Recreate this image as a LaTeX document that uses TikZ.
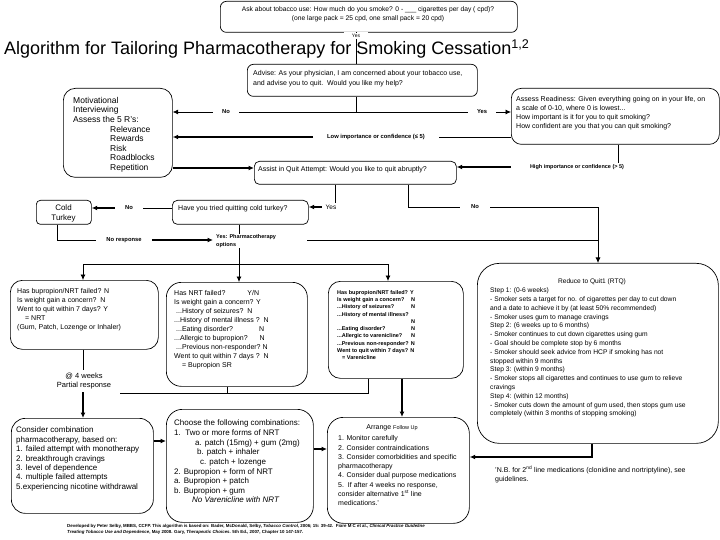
\documentclass[tikz,border=0pt]{standalone}
\usepackage{fontspec}
\setmainfont{Liberation Sans}
\usetikzlibrary{arrows.meta,calc}
\newcommand\fsz[2]{\fontsize{#1bp}{#2bp}\selectfont}
\tikzset{
  conn/.style={line width=0.7bp},
  thk/.style={line width=1.7bp},
  arr/.style={-{Latex[length=5.5bp,width=5bp]}},
  bx/.style n args={3}{draw, line width=0.7bp, rounded corners=#3bp, inner sep=0pt, anchor=north west, minimum width=#1bp, minimum height=#2bp},
  txt/.style={inner sep=0pt, anchor=north west, align=left},
  lbl/.style={fill=white, inner xsep=9bp, inner ysep=1.5bp, font=\bfseries\fsz{5.8}{7}},
}
\begin{document}
\begin{tikzpicture}[x=1bp,y=-1bp]
\fill[white] (0,0) rectangle (720,540);
\useasboundingbox (0,0) rectangle (720,540);

% ---------- boxes ----------
\node[bx={297}{31}{6}] (ask) at (220,1) {};
\node[bx={230}{32}{6}] (advise) at (247,64) {};
\node[bx={109}{89}{12}] (motiv) at (63,88) {};
\node[bx={208}{56}{10}] (assess) at (511,88) {};
\node[bx={202}{23}{5}] (assist) at (254,161) {};
\node[bx={136}{24}{5}] (tried) at (172,200) {};
\node[bx={55}{24}{4}] (cold) at (36,200) {};
\node[bx={148}{69}{12}] (nrt) at (10,280) {};
\node[bx={141}{104}{15}] (bup) at (166,282) {};
\node[bx={135}{97}{12}] (var) at (328,281) {};
\node[bx={241}{180}{22}] (rtq) at (477,263) {};
\node[bx={142}{95}{14}] (cons) at (11,418) {};
\node[bx={147}{113}{16}] (choose) at (166,409) {};
\node[bx={142}{106}{16}] (arrange) at (327,417) {};

% ---------- texts ----------
\node[inner sep=0pt, anchor=base west, font=\fsz{18}{20}] (title) at (4,55)
  {Algorithm for Tailoring Pharmacotherapy for Smoking Cessation\textsuperscript{1,2}};

\node[txt, anchor=north, align=center, font=\fsz{6.7}{9}] (asktxt) at (368,6.5)
  {Ask about tobacco use: How much do you smoke? 0 - \_\_\_ cigarettes per day ( cpd)?\\(one large pack = 25 cpd, one small pack = 20 cpd)};

\node[txt, font=\fsz{7}{10}] (advisetxt) at (253,70.5)
  {Advise: As your physician, I am concerned about your tobacco use,\\and advise you to quit.\ \ Would you like my help?};

\node[txt, font=\fsz{8.5}{9.6}] (motivtxt) at (73,97)
  {Motivational\\Interviewing\\Assess the 5 R's:\\
   \hspace*{37bp}Relevance\\\hspace*{37bp}Rewards\\\hspace*{37bp}Risk\\
   \hspace*{37bp}Roadblocks\\\hspace*{37bp}Repetition};

\node[txt, font=\fsz{7}{9}] (assesstxt) at (516,96.5)
  {Assess Readiness: Given everything going on in your life, on\\a scale of 0-10, where 0 is lowest...\\
   How important is it for you to quit smoking?\\How confident are you that you can quit smoking?};

\node[txt, font=\fsz{7}{9}] (assisttxt) at (258,166)
  {Assist in Quit Attempt: Would you like to quit abruptly?};

\node[txt, font=\fsz{7}{9}] (triedtxt) at (178,205.5)
  {Have you tried quitting cold turkey?};

\node[txt, anchor=center, align=center, font=\fsz{8}{10}] (coldtxt) at (63.5,213)
  {Cold\\Turkey};

\node[txt, font=\fsz{7}{9}] (nrttxt) at (17,288.5)
  {Has bupropion/NRT failed? N\\Is weight gain a concern?\ \ N\\Went to quit within 7 days? Y\\
   \hspace*{8bp}= NRT\\(Gum, Patch, Lozenge or Inhaler)};

\node[txt, font=\fsz{7}{9}] (buptxt) at (174,290.5)
  {Has NRT failed?\hspace{22bp}Y/N\\Is weight gain a concern? Y\\
   \hspace*{2bp}...History of seizures?\ \ N\\...History of mental illness ?\ \ N\\
   \hspace*{2bp}...Eating disorder?\hspace{26bp}N\\...Allergic to bupropion?\hspace{12bp}N\\
   \hspace*{2bp}...Previous non-responder?\ N\\Went to quit within 7 days ?\ \ N\\
   \hspace*{8bp}= Bupropion SR};

\node[txt, font=\bfseries\fsz{5.5}{7.3}] (vartxt) at (337,290)
  {Has bupropion/NRT failed? Y\\
   \makebox[74bp][l]{Is weight gain a concern?}N\\
   \makebox[74bp][l]{...History of seizures?}N\\
   ...History of mental illness?\\
   \hspace*{74bp}N\\
   \makebox[74bp][l]{...Eating disorder?}N\\
   \makebox[74bp][l]{...Allergic to varenicline?}N\\
   ...Previous non-responder? N\\
   Went to quit within 7 days? N\\
   \hspace*{5bp}= Varenicline};

\node[inner sep=0pt, font=\fsz{6.6}{8}] (rtqtitle) at (592,282) {Reduce to Quit1 (RTQ)};
\node[txt, font=\fsz{6.7}{8.8}] (rtqtxt) at (490,287.6)
  {Step 1: (0-6 weeks)\\
   - Smoker sets a target for no. of cigarettes per day to cut down\\
   and a date to achieve it by (at least 50\% recommended)\\
   - Smoker uses gum to manage cravings\\
   Step 2: (6 weeks up to 6 months)\\
   - Smoker continues to cut down cigarettes using gum\\
   - Goal should be complete stop by 6 months\\
   - Smoker should seek advice from HCP if smoking has not\\
   stopped within 9 months\\
   Step 3: (within 9 months)\\
   - Smoker stops all cigarettes and continues to use gum to relieve\\
   cravings\\
   Step 4: (within 12 months)\\
   - Smoker cuts down the amount of gum used, then stops gum use\\
   completely (within 3 months of stopping smoking)};

\node[txt, font=\fsz{8}{9.4}] (constxt) at (16,427)
  {Consider combination\\pharmacotherapy, based on:\\1. failed attempt with monotherapy\\
   2. breakthrough cravings\\3. level of dependence\\4. multiple failed attempts\\
   5.experiencing nicotine withdrawal};

\node[txt, font=\fsz{8}{9.6}] (choosetxt) at (174,420)
  {Choose the following combinations:\\1.\ \ Two or more forms of NRT\\
   \hspace*{21bp}a. patch (15mg) + gum (2mg)\\\hspace*{23bp}b. patch + inhaler\\
   \hspace*{26bp}c. patch + lozenge\\2. Bupropion + form of NRT\\a. Bupropion + patch\\
   b. Bupropion + gum\\\hspace*{18bp}\textit{No Varenicline with NRT}};

\node[inner sep=0pt, font=\fsz{7}{8}] (arrtitle) at (392,428) {Arrange {\fsz{5.5}{7}Follow Up}};
\node[txt, font=\fsz{7}{9.3}] (arrtxt) at (338,435.5)
  {1. Monitor carefully\\2. Consider contraindications\\3. Consider comorbidities and specific\\
   pharmacotherapy\\4. Consider dual purpose medications\\5.\ \ If after 4 weeks no response,\\
   consider alternative 1\textsuperscript{st} line\\medications.'};

\node[txt, font=\fsz{7}{9}] (nbtxt) at (495,465.5)
  {'N.B. for 2\textsuperscript{nd} line medications (clonidine and nortriptyline), see\\guidelines.};

\node[txt, font=\bfseries\fsz{4.4}{6.3}] (footer) at (67,524)
  {Developed by Peter Selby, MBBS, CCFP. This algorithm is based on: Bader, McDonald, Selby, \textit{Tobacco Control}, 2006; 15: 39-42.\ \ Fiore M C et al., \textit{Clinical Practice Guideline}\\
   \textit{Treating Tobacco Use and Dependence}, May 2008. Gary, \textit{Therapeutic Choices}. 5th Ed., 2007, Chapter 10 147-157.};

% ---------- labels on connectors ----------
\node[lbl, inner xsep=8bp, font=\fsz{5}{6}] (yes1) at (356,35.5) {Yes};
\node[lbl] (no1) at (226,112) {No};
\node[lbl] (yes2) at (482,112) {Yes};
\node[lbl, inner xsep=14bp] (lowlbl) at (376,137) {Low importance or confidence (≤ 5)};
\node[lbl, inner xsep=19bp, fill=none, font=\bfseries\fsz{5.5}{7}] (hilbl) at (577,167) {High importance or confidence (> 5)};
\node[lbl, inner xsep=11bp] (no2) at (475,207) {No};
\node[lbl, inner xsep=4bp, font=\fsz{6.5}{7}] (yes3) at (331,207) {Yes};
\node[lbl, inner xsep=10bp] (no3) at (129,208) {No};
\node[lbl, inner xsep=10bp] (noresp) at (124,240) {No response};
\node[txt, inner xsep=3bp, font=\bfseries\fsz{5.5}{8.5}] (pharm) at (213,234) {Yes: Pharmacotherapy\\options};
\node[inner sep=0pt, inner ysep=3bp, anchor=north, align=center, font=\fsz{7.5}{9}] (partial) at (84,370)
  {@ 4 weeks\\Partial response};

% ---------- helper coordinates ----------
\coordinate (xa) at (356,0);
\coordinate (j1) at (356,112);
\coordinate (ya) at (0,168);
\coordinate (xh) at (618,0);
\coordinate (xn) at (408,0);
\coordinate (xr) at (598,0);
\coordinate (xy) at (335,0);
\coordinate (xc) at (57,0);
\coordinate (xp) at (239,0);
\coordinate (pj) at (307,240);
\coordinate (jr) at (598,240);
\coordinate (yb) at (0,264);
\coordinate (xq) at (83,0);
\coordinate (xv) at (388,0);
\coordinate (xb) at (227,0);
\coordinate (xv2) at (368,0);
\coordinate (pend) at (120,393);
\coordinate (xt) at (402,0);
\coordinate (yc) at (0,441);
\coordinate (yd) at (0,449);
\coordinate (xrt) at (592,0);
\coordinate (yrt) at (0,457);

% ---------- connectors ----------
\draw[conn] (ask.south -| xa) -- (yes1.north -| xa);
\draw[conn] (yes1.south -| xa) -- (advise.north -| xa);

\draw[conn] (advise.south -| xa) -- (j1);
\draw[conn] (j1) -- (no1.east);
\draw[conn,arr] (no1.west) -- (motiv.east |- j1);
\draw[conn] (j1) -- (yes2.west);
\draw[conn,arr] (yes2.east) -- (assess.west |- j1);

\draw[conn] (assess.west |- lowlbl) -- (lowlbl.east);
\draw[thk,arr] (lowlbl.west) -- (motiv.east |- lowlbl);

\draw[thk,arr] (motiv.east |- ya) -- (assist.west |- ya);

\draw[conn] (assess.south -| xh) -- (hilbl.north -| xh);
\draw[thk,arr] (hilbl.west) -- (assist.east |- hilbl);

\draw[conn] (assist.south -| xn) |- (no2.west);
\draw[conn,arr] (no2.east) -| (rtq.north -| xr);

\draw[conn] (assist.south -| xy) -- (yes3.north -| xy);
\draw[thk,arr] (yes3.west) -- (tried.east |- yes3);

\draw[conn] (tried.west |- no3) -- (no3.east);
\draw[thk,arr] (no3.west) -- (cold.east |- no3);

\draw[conn] (cold.south -| xc) |- (noresp.west);
\draw[thk,arr] (noresp.east) -- (pharm.west |- noresp);

\draw[conn] (tried.south -| xp) -- (pharm.north -| xp);
\draw[conn] (pj) -- (jr);

\draw[conn,arr] (pharm.south -| xp) -- (bup.north -| xp);
\draw[conn,arr] (xp |- yb) -| (nrt.north -| xq);
\draw[conn,arr] (xp |- yb) -| (var.north -| xv);

\draw[conn] (nrt.south -| xq) -- (partial.north -| xq);
\draw[thk,arr] (partial.south -| xq) -- (cons.north -| xq);

\draw[conn] (var.south -| xv2) |- (pend);
\draw[conn] (bup.south -| xb) -- (xb |- pend);

\draw[thk,arr] (var.south -| xt) -- (arrange.north -| xt);

\draw[thk,arr] (cons.east |- yc) -- (choose.west |- yc);
\draw[thk,arr] (choose.east |- yd) -- (arrange.west |- yd);

\draw[thk,arr] (rtq.south -| xrt) |- (arrange.east |- yrt);
\end{tikzpicture}
\end{document}
